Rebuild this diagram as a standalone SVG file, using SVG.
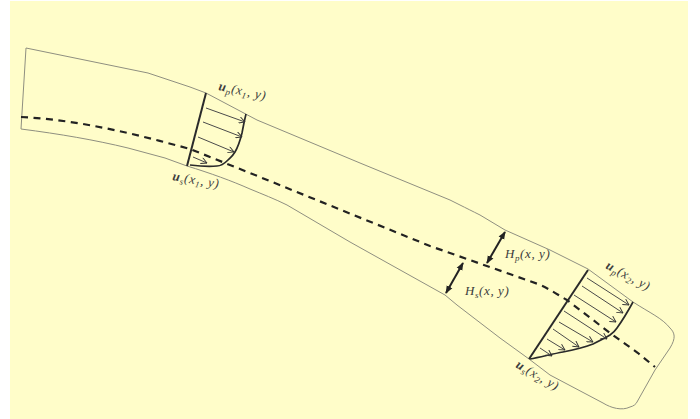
<svg xmlns="http://www.w3.org/2000/svg" width="700" height="419" viewBox="0 0 700 419">
<defs>
<marker id="ah" viewBox="0 0 10 10" refX="9.5" refY="5" markerWidth="7" markerHeight="7" markerUnits="userSpaceOnUse" orient="auto"><path d="M1 0.5L9.5 5L1 9.5" fill="none" stroke="#333" stroke-width="1.3"/></marker>
<marker id="bh" viewBox="0 0 10 10" refX="9" refY="5" markerWidth="8" markerHeight="8" markerUnits="userSpaceOnUse" orient="auto-start-reverse"><path d="M0 1L10 5L0 9Z" fill="#222"/></marker>
</defs>
<style>
.bank{fill:none;stroke:#8f8f80;stroke-width:1}
.dash{fill:none;stroke:#222;stroke-width:2.2;stroke-dasharray:7 5.5}
.sec{fill:none;stroke:#2a2a2a;stroke-width:2}
.prof{fill:none;stroke:#2a2a2a;stroke-width:1.7}
.vec{stroke:#4a4a4a;stroke-width:1;fill:none;marker-end:url(#ah)}
.dbl{stroke:#222;stroke-width:2;marker-start:url(#bh);marker-end:url(#bh)}
text{font-family:"Liberation Serif","DejaVu Serif",serif;font-size:13px;fill:#3c3c3c;font-style:italic;letter-spacing:.6px}
.sb{font-size:9px}
</style>
<rect width="700" height="419" fill="#fff"/>
<rect x="10" y="1" width="678" height="418" fill="#fffdc9"/>
<g id="channel">
<path class="bank" d="M26 48L21 129C60 134 95 140 128 148L165 158L187 166C210 173 232 181 250 189C262 194 275 199 287 205L350 242L445 295L457 305L500 338L529 359L550 375L603 403C611 408 622 411 630 407C634 406 636 404 637 402L655 370L670 348C676 338 675 333 670 328C662 318 650 313 633 302L588 269L550 250L505 230L480 215C472 211 466 208 460 205L450 200L360 163L257 120L206 93L190 87L148 73Z"/>
</g>
<g id="connectors">
<path class="dash" d="M21 117C80 120 135 134 190 149L250 173L430 246L538 284C550 289 558 295 567 300L610 333L638 353L655 367"/>
<line class="dbl" x1="505" y1="232" x2="487" y2="263"/>
<line class="dbl" x1="463" y1="263" x2="446" y2="293"/>
</g>
<g id="section-1">
<line class="sec" x1="206" y1="93" x2="187" y2="166"/>
<path class="prof" d="M246 114C244 122 243 128 242 133C240 141 238 147 235 152C232 157 230 158 228 160C224 164 220 166 217 166C208 167 198 166 190 165"/>
<line class="vec" x1="206" y1="108" x2="245" y2="122"/>
<line class="vec" x1="203" y1="122" x2="242" y2="137"/>
<line class="vec" x1="198" y1="137" x2="234" y2="152"/>
<line class="vec" x1="193" y1="157" x2="207" y2="163"/>
<text transform="translate(218 90) rotate(12)"><tspan font-weight="bold">u</tspan><tspan class="sb" dy="3">p</tspan><tspan dy="-3">(x</tspan><tspan class="sb" dy="3">1</tspan><tspan dy="-3">, y)</tspan></text>
<text transform="translate(172 180) rotate(10)"><tspan font-weight="bold">u</tspan><tspan class="sb" dy="3">s</tspan><tspan dy="-3">(x</tspan><tspan class="sb" dy="3">1</tspan><tspan dy="-3">, y)</tspan></text>
</g>
<g id="section-2">
<line class="sec" x1="588" y1="270" x2="529" y2="359"/>
<path class="prof" d="M633 302C627 313 622 321 617 328C615 331 613 333 610 335C605 338 599 341 593 344C583 348 573 350 563 352C552 354 541 357 530 359"/>
<line class="vec" x1="587" y1="278" x2="629" y2="305"/>
<line class="vec" x1="582" y1="286" x2="623" y2="313"/>
<line class="vec" x1="574" y1="295" x2="616" y2="322"/>
<line class="vec" x1="564" y1="311" x2="607" y2="339"/>
<line class="vec" x1="559" y1="322" x2="593" y2="342"/>
<line class="vec" x1="553" y1="329" x2="579" y2="347"/>
<line class="vec" x1="547" y1="339" x2="565" y2="350"/>
<line class="vec" x1="540" y1="348" x2="552" y2="356"/>
<text transform="translate(605 268) rotate(28)"><tspan font-weight="bold">u</tspan><tspan class="sb" dy="3">p</tspan><tspan dy="-3">(x</tspan><tspan class="sb" dy="3">2</tspan><tspan dy="-3">, y)</tspan></text>
<text transform="translate(515 367) rotate(30)"><tspan font-weight="bold">u</tspan><tspan class="sb" dy="3">s</tspan><tspan dy="-3">(x</tspan><tspan class="sb" dy="3">2</tspan><tspan dy="-3">, y)</tspan></text>
</g>
<g id="labels">
<text x="505" y="258">H<tspan class="sb" dy="3">p</tspan><tspan dy="-3">(x, y)</tspan></text>
<text x="465" y="295">H<tspan class="sb" dy="3">s</tspan><tspan dy="-3">(x, y)</tspan></text>
</g>
</svg>
